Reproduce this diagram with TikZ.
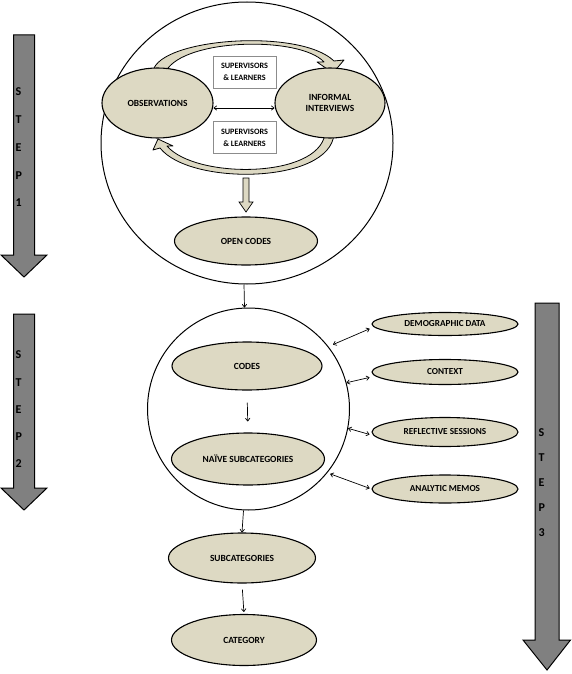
\documentclass[tikz,border=0pt]{standalone}
\usepackage{fontspec}
\setmainfont{Carlito}
\usetikzlibrary{shapes.geometric,arrows.meta}
\definecolor{tanfill}{HTML}{DDD9C3}
\definecolor{stepgray}{HTML}{808080}
\begin{document}
\begin{tikzpicture}[x=1pt,y=-1pt,
  oval/.style={ellipse,draw=black,line width=1.1pt,fill=tanfill,inner sep=0pt,align=center,font=\bfseries\fontsize{9.4}{11}\selectfont},
  sideoval/.style={oval,minimum width=146pt,font=\bfseries\fontsize{9.2}{11}\selectfont},
  ring/.style={circle,draw=black,line width=1pt,inner sep=0pt},
  labelbox/.style={draw=black!45,line width=0.6pt,fill=white,minimum width=63pt,minimum height=32pt,inner sep=0pt,align=center,font=\bfseries\fontsize{8.2}{12}\selectfont},
  steparrow/.style={draw=black,line width=1pt,fill=stepgray},
  steptext/.style={anchor=west,align=left,inner sep=0pt,font=\bfseries\fontsize{12}{27.75}\selectfont},
  curvedband/.style={draw=black,line width=0.8pt,fill=tanfill,line join=round},
  conn/.style={-{To[length=3.5pt,width=5pt]},line width=0.7pt},
  dconn/.style={{To[length=3.5pt,width=5pt]}-{To[length=3.5pt,width=5pt]},line width=0.7pt}
]
\useasboundingbox (0,0) rectangle (571,674);

% step arrows
\filldraw[steparrow] (13.5,35) -- (34.5,35) -- (34.5,255) -- (47,255) -- (24,277) -- (1,255) -- (13.5,255) -- cycle;
\node[steptext] (st1) at (15.5,147.5) {S\\T\\E\\P\\1};
\filldraw[steparrow] (13.5,314) -- (34.5,314) -- (34.5,488) -- (47,488) -- (24,510) -- (1,488) -- (13.5,488) -- cycle;
\node[steptext,font=\bfseries\fontsize{12}{27.25}\selectfont] (st2) at (15.5,409.5) {S\\T\\E\\P\\2};
\filldraw[steparrow] (535,303) -- (559,303) -- (559,640) -- (570.5,640) -- (547,670) -- (523,640) -- (535,640) -- cycle;
\node[steptext,font=\bfseries\fontsize{12}{25}\selectfont] (st3) at (538.5,483) {S\\T\\E\\P\\3};

% big rings
\node[ellipse,draw=black,line width=1pt,inner sep=0pt,minimum width=292pt,minimum height=282pt] (c1) at (247,143) {};
\node[ring,minimum size=202pt] (c2) at (248.5,409) {};

% curved block arrows
\filldraw[curvedband] (153,71) .. controls (160,38) and (300,28) .. (334,61) -- (344,60) -- (333,73) -- (317,62) -- (324,62) .. controls (300,36) and (185,38) .. (166,71) -- cycle;
\filldraw[curvedband] (334,134) .. controls (330,184) and (190,186) .. (160,148) -- (153,150) -- (158,139) -- (173,146) -- (167,146) .. controls (195,179) and (318,179) .. (325,134) -- cycle;

% top loop nodes
\node[oval,minimum width=111pt,minimum height=70pt] (obs) at (157.5,103) {OBSERVATIONS};
\node[oval,minimum width=110pt,minimum height=70pt] (inf) at (330,103) {INFORMAL\\INTERVIEWS};
\node[labelbox] (b1) at (244.5,72) {SUPERVISORS\\\& LEARNERS};
\node[labelbox] (b2) at (244.5,137.5) {SUPERVISORS\\\& LEARNERS};
\draw[dconn] ([yshift=-5pt]obs.east) -- ([yshift=-5pt]inf.west);

% block arrow down
\filldraw[curvedband,line width=0.7pt,line join=miter] (243,178) -- (249,178) -- (249,202) -- (253,202) -- (246,212) -- (239,202) -- (243,202) -- cycle;

\node[oval,minimum width=143pt,minimum height=48pt] (open) at (246,241) {OPEN CODES};

% step 2 nodes
\node[oval,minimum width=150pt,minimum height=48pt] (codes) at (247,366) {CODES};
\node[oval,minimum width=153pt,minimum height=52pt] (naive) at (248,459) {NAÏVE SUBCATEGORIES};
\node[oval,minimum width=147pt,minimum height=50pt] (sub) at (242,558) {SUBCATEGORIES};
\node[oval,minimum width=145pt,minimum height=51pt] (cat) at (244,640) {CATEGORY};

\node[sideoval,minimum height=23pt] (demo) at (445,324) {DEMOGRAPHIC DATA};
\node[sideoval,minimum height=25pt] (ctx) at (445,372) {CONTEXT};
\node[sideoval,minimum height=29pt] (refl) at (445,432) {REFLECTIVE SESSIONS};
\node[sideoval,minimum height=28pt] (memo) at (445,489) {ANALYTIC MEMOS};

% connectors
\draw[conn] ([xshift=-3pt]c1.south) -- ([xshift=-4pt]c2.north);
\draw[conn,shorten <=12pt,shorten >=11pt] (codes.south) -- (naive.north);
\draw[conn] ([xshift=-5pt]c2.south) -- (sub.north);
\draw[conn,shorten <=6pt,shorten >=2pt] (sub.south) -- (cat.north);

\draw[dconn,shorten <=5pt,shorten >=2pt] (c2.38) -- ([yshift=-4pt]demo.west);
\draw[dconn,shorten >=2pt] (c2.15) -- ([yshift=-5pt]ctx.west);
\draw[dconn,shorten >=2pt] (c2.-11) -- ([yshift=-3pt]refl.west);
\draw[dconn,shorten <=3pt,shorten >=2pt] (c2.-39) -- (memo.west);
\end{tikzpicture}
\end{document}
